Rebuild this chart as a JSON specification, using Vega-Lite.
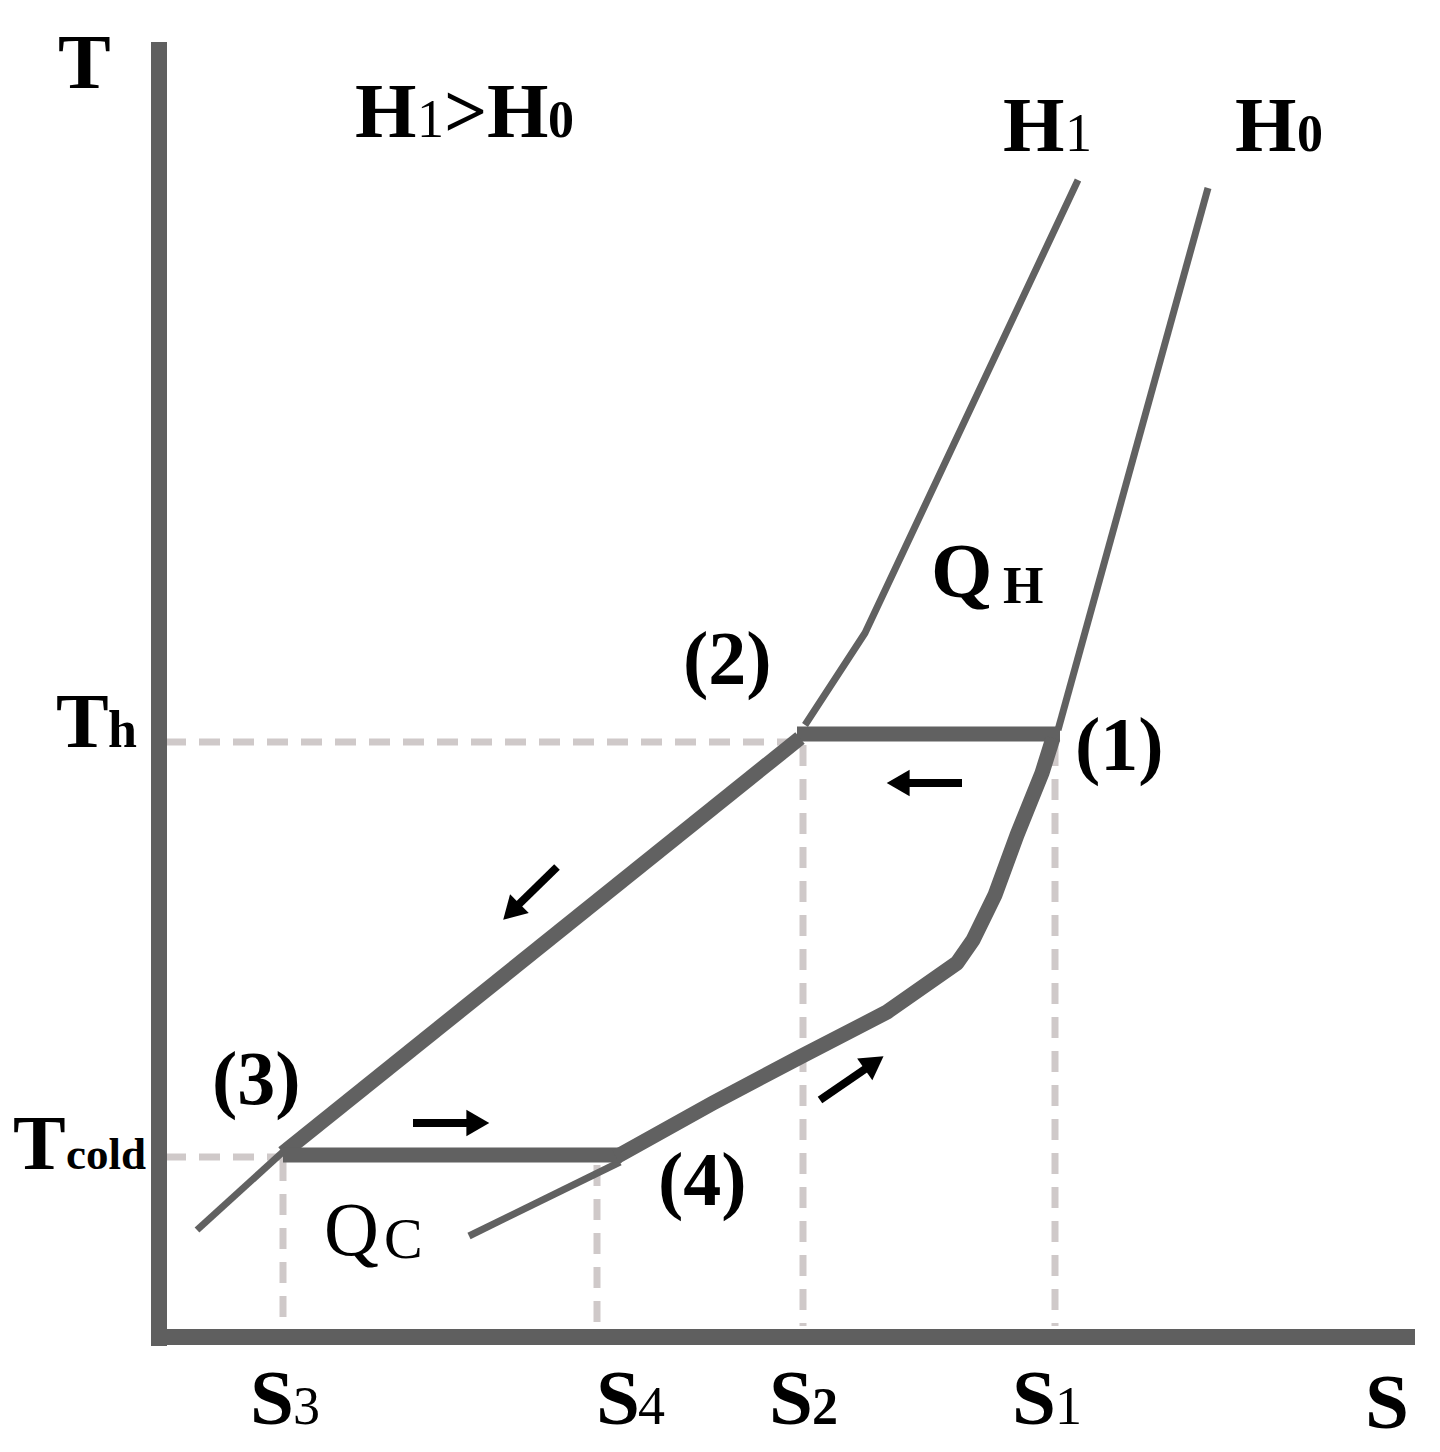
{
  "$schema": "https://vega.github.io/schema/vega-lite/v6.json",
  "width": 1440,
  "height": 1452,
  "padding": 0,
  "autosize": {"type": "none"},
  "background": "white",
  "config": {"view": {"stroke": null}},
  "datasets": {
    "lines": [
      {"id": "axisV", "kind": "axis", "ord": 0, "s": 159, "t": 1410},
      {"id": "axisV", "kind": "axis", "ord": 1, "s": 159, "t": 106},
      {"id": "axisH", "kind": "axis", "ord": 0, "s": 152, "t": 115},
      {"id": "axisH", "kind": "axis", "ord": 1, "s": 1415, "t": 115},
      {"id": "g1", "kind": "guide", "ord": 0, "s": 165, "t": 710},
      {"id": "g1", "kind": "guide", "ord": 1, "s": 797, "t": 710},
      {"id": "g2", "kind": "guide", "ord": 0, "s": 165, "t": 295},
      {"id": "g2", "kind": "guide", "ord": 1, "s": 283, "t": 295},
      {"id": "g3", "kind": "guide", "ord": 0, "s": 283, "t": 292},
      {"id": "g3", "kind": "guide", "ord": 1, "s": 283, "t": 126},
      {"id": "g4", "kind": "guide", "ord": 0, "s": 597, "t": 287},
      {"id": "g4", "kind": "guide", "ord": 1, "s": 597, "t": 126},
      {"id": "g5", "kind": "guide", "ord": 0, "s": 803, "t": 707},
      {"id": "g5", "kind": "guide", "ord": 1, "s": 803, "t": 126},
      {"id": "g6", "kind": "guide", "ord": 0, "s": 1055, "t": 707},
      {"id": "g6", "kind": "guide", "ord": 1, "s": 1055, "t": 126},
      {"id": "i1", "kind": "iso", "ord": 0, "s": 1078, "t": 1272},
      {"id": "i1", "kind": "iso", "ord": 1, "s": 865, "t": 819},
      {"id": "i1", "kind": "iso", "ord": 2, "s": 805, "t": 727},
      {"id": "i2", "kind": "iso", "ord": 0, "s": 285, "t": 302},
      {"id": "i2", "kind": "iso", "ord": 1, "s": 197, "t": 222},
      {"id": "i3", "kind": "iso", "ord": 0, "s": 1208, "t": 1264},
      {"id": "i3", "kind": "iso", "ord": 1, "s": 1058, "t": 722},
      {"id": "i4", "kind": "iso", "ord": 0, "s": 620, "t": 290},
      {"id": "i4", "kind": "iso", "ord": 1, "s": 469, "t": 216},
      {"id": "c1", "kind": "cycle", "ord": 0, "s": 1060, "t": 718},
      {"id": "c1", "kind": "cycle", "ord": 1, "s": 797, "t": 718},
      {"id": "c2", "kind": "cycle", "ord": 0, "s": 800, "t": 714},
      {"id": "c2", "kind": "cycle", "ord": 1, "s": 283, "t": 299},
      {"id": "c3", "kind": "cycle", "ord": 0, "s": 283, "t": 297},
      {"id": "c3", "kind": "cycle", "ord": 1, "s": 622, "t": 297},
      {"id": "c4", "kind": "cycle", "ord": 0, "s": 616, "t": 295},
      {"id": "c4", "kind": "cycle", "ord": 1, "s": 713, "t": 349},
      {"id": "c4", "kind": "cycle", "ord": 2, "s": 800, "t": 395},
      {"id": "c4", "kind": "cycle", "ord": 3, "s": 887, "t": 440},
      {"id": "c4", "kind": "cycle", "ord": 4, "s": 957, "t": 489},
      {"id": "c4", "kind": "cycle", "ord": 5, "s": 973, "t": 512},
      {"id": "c4", "kind": "cycle", "ord": 6, "s": 995, "t": 557},
      {"id": "c4", "kind": "cycle", "ord": 7, "s": 1017, "t": 617},
      {"id": "c4", "kind": "cycle", "ord": 8, "s": 1042, "t": 679},
      {"id": "c4", "kind": "cycle", "ord": 9, "s": 1053, "t": 714}
    ],
    "arrows": [
      {"s": 962, "t": 669, "s2": 902, "t2": 669, "angle": 270},
      {"s": 557, "t": 585, "s2": 514, "t2": 543, "angle": 225},
      {"s": 413, "t": 329, "s2": 474, "t2": 329, "angle": 90},
      {"s": 820, "t": 352, "s2": 871, "t2": 387, "angle": 55}
    ],
    "labels": [
      {"txt": "T", "cls": "big", "s": 58, "t": 1364},
      {"txt": "H", "cls": "big", "s": 355, "t": 1315},
      {"txt": "1", "cls": "subr", "s": 417, "t": 1315},
      {"txt": ">", "cls": "lab", "s": 444, "t": 1315},
      {"txt": "H", "cls": "big", "s": 487, "t": 1315},
      {"txt": "0", "cls": "subb", "s": 548, "t": 1315},
      {"txt": "H", "cls": "big", "s": 1003, "t": 1301},
      {"txt": "1", "cls": "subr", "s": 1065, "t": 1301},
      {"txt": "H", "cls": "big", "s": 1235, "t": 1301},
      {"txt": "0", "cls": "subb", "s": 1297, "t": 1301},
      {"txt": "Q", "cls": "big", "s": 931, "t": 855},
      {"txt": "H", "cls": "subb", "s": 1003, "t": 849},
      {"txt": "(2)", "cls": "lab", "s": 683, "t": 768},
      {"txt": "T", "cls": "big", "s": 56, "t": 705},
      {"txt": "h", "cls": "subb", "s": 108, "t": 705},
      {"txt": "(1)", "cls": "lab", "s": 1075, "t": 682},
      {"txt": "(3)", "cls": "lab", "s": 212, "t": 348},
      {"txt": "T", "cls": "big", "s": 13, "t": 283},
      {"txt": "cold", "cls": "sml", "s": 66, "t": 283},
      {"txt": "(4)", "cls": "lab", "s": 658, "t": 247},
      {"txt": "Q", "cls": "qc", "s": 324, "t": 197},
      {"txt": "C", "cls": "qcs", "s": 384, "t": 194},
      {"txt": "S", "cls": "big", "s": 250, "t": 28},
      {"txt": "3", "cls": "subr", "s": 293, "t": 28},
      {"txt": "S", "cls": "big", "s": 596, "t": 28},
      {"txt": "4", "cls": "subr", "s": 638, "t": 28},
      {"txt": "S", "cls": "big", "s": 769, "t": 28},
      {"txt": "2", "cls": "subb", "s": 812, "t": 28},
      {"txt": "S", "cls": "big", "s": 1012, "t": 28},
      {"txt": "1", "cls": "subr", "s": 1055, "t": 28},
      {"txt": "S", "cls": "big", "s": 1365, "t": 24}
    ]
  },
  "layer": [
    {
      "data": {"name": "lines"},
      "transform": [{"filter": "datum.kind === 'guide'"}],
      "mark": {"type": "line", "color": "#cfc9c9", "strokeWidth": 7, "strokeDash": [21, 13], "strokeCap": "butt"},
      "encoding": {
        "x": {"field": "s", "type": "quantitative", "scale": {"domain": [0, 1440], "nice": false, "zero": false}, "axis": null},
        "y": {"field": "t", "type": "quantitative", "scale": {"domain": [0, 1452], "nice": false, "zero": false}, "axis": null},
        "detail": {"field": "id"},
        "order": {"field": "ord", "type": "quantitative"}
      }
    },
    {
      "data": {"name": "lines"},
      "transform": [{"filter": "datum.kind === 'iso'"}],
      "mark": {"type": "line", "color": "#616161", "strokeWidth": 7, "strokeCap": "butt", "strokeJoin": "round"},
      "encoding": {
        "x": {"field": "s", "type": "quantitative", "axis": null},
        "y": {"field": "t", "type": "quantitative", "axis": null},
        "detail": {"field": "id"},
        "order": {"field": "ord", "type": "quantitative"}
      }
    },
    {
      "data": {"name": "lines"},
      "transform": [{"filter": "datum.kind === 'cycle'"}],
      "mark": {"type": "line", "color": "#616161", "strokeWidth": 15, "strokeCap": "butt", "strokeJoin": "round"},
      "encoding": {
        "x": {"field": "s", "type": "quantitative", "axis": null},
        "y": {"field": "t", "type": "quantitative", "axis": null},
        "detail": {"field": "id"},
        "order": {"field": "ord", "type": "quantitative"}
      }
    },
    {
      "data": {"name": "lines"},
      "transform": [{"filter": "datum.kind === 'axis'"}],
      "mark": {"type": "line", "color": "#5f5f5f", "strokeWidth": 16, "strokeCap": "butt"},
      "encoding": {
        "x": {"field": "s", "type": "quantitative", "axis": null},
        "y": {"field": "t", "type": "quantitative", "axis": null},
        "detail": {"field": "id"},
        "order": {"field": "ord", "type": "quantitative"}
      }
    },
    {
      "data": {"name": "arrows"},
      "mark": {"type": "rule", "color": "black", "strokeWidth": 8, "strokeCap": "butt"},
      "encoding": {
        "x": {"field": "s", "type": "quantitative", "axis": null},
        "y": {"field": "t", "type": "quantitative", "axis": null},
        "x2": {"field": "s2"},
        "y2": {"field": "t2"}
      }
    },
    {
      "data": {"name": "arrows"},
      "mark": {"type": "point", "shape": "triangle", "filled": true, "color": "black", "opacity": 1, "size": 700},
      "encoding": {
        "x": {"field": "s2", "type": "quantitative", "axis": null},
        "y": {"field": "t2", "type": "quantitative", "axis": null},
        "angle": {"field": "angle", "type": "quantitative", "scale": null}
      }
    },
    {
      "data": {"name": "labels"},
      "transform": [{"filter": "datum.cls === 'big'"}],
      "mark": {"type": "text", "font": "Liberation Serif", "fontWeight": "bold", "fontSize": 79, "align": "left", "baseline": "alphabetic", "color": "black"},
      "encoding": {
        "x": {"field": "s", "type": "quantitative", "axis": null},
        "y": {"field": "t", "type": "quantitative", "axis": null},
        "text": {"field": "txt"}
      }
    },
    {
      "data": {"name": "labels"},
      "transform": [{"filter": "datum.cls === 'lab'"}],
      "mark": {"type": "text", "font": "Liberation Serif", "fontWeight": "bold", "fontSize": 76, "align": "left", "baseline": "alphabetic", "color": "black"},
      "encoding": {
        "x": {"field": "s", "type": "quantitative", "axis": null},
        "y": {"field": "t", "type": "quantitative", "axis": null},
        "text": {"field": "txt"}
      }
    },
    {
      "data": {"name": "labels"},
      "transform": [{"filter": "datum.cls === 'subb'"}],
      "mark": {"type": "text", "font": "Liberation Serif", "fontWeight": "bold", "fontSize": 52, "align": "left", "baseline": "alphabetic", "color": "black"},
      "encoding": {
        "x": {"field": "s", "type": "quantitative", "axis": null},
        "y": {"field": "t", "type": "quantitative", "axis": null},
        "text": {"field": "txt"}
      }
    },
    {
      "data": {"name": "labels"},
      "transform": [{"filter": "datum.cls === 'subr'"}],
      "mark": {"type": "text", "font": "Liberation Serif", "fontWeight": "normal", "fontSize": 54, "align": "left", "baseline": "alphabetic", "color": "black"},
      "encoding": {
        "x": {"field": "s", "type": "quantitative", "axis": null},
        "y": {"field": "t", "type": "quantitative", "axis": null},
        "text": {"field": "txt"}
      }
    },
    {
      "data": {"name": "labels"},
      "transform": [{"filter": "datum.cls === 'sml'"}],
      "mark": {"type": "text", "font": "Liberation Serif", "fontWeight": "bold", "fontSize": 45, "align": "left", "baseline": "alphabetic", "color": "black"},
      "encoding": {
        "x": {"field": "s", "type": "quantitative", "axis": null},
        "y": {"field": "t", "type": "quantitative", "axis": null},
        "text": {"field": "txt"}
      }
    },
    {
      "data": {"name": "labels"},
      "transform": [{"filter": "datum.cls === 'qc'"}],
      "mark": {"type": "text", "font": "Liberation Serif", "fontWeight": "normal", "fontSize": 76, "align": "left", "baseline": "alphabetic", "color": "black"},
      "encoding": {
        "x": {"field": "s", "type": "quantitative", "axis": null},
        "y": {"field": "t", "type": "quantitative", "axis": null},
        "text": {"field": "txt"}
      }
    },
    {
      "data": {"name": "labels"},
      "transform": [{"filter": "datum.cls === 'qcs'"}],
      "mark": {"type": "text", "font": "Liberation Serif", "fontWeight": "normal", "fontSize": 58, "align": "left", "baseline": "alphabetic", "color": "black"},
      "encoding": {
        "x": {"field": "s", "type": "quantitative", "axis": null},
        "y": {"field": "t", "type": "quantitative", "axis": null},
        "text": {"field": "txt"}
      }
    }
  ]
}
